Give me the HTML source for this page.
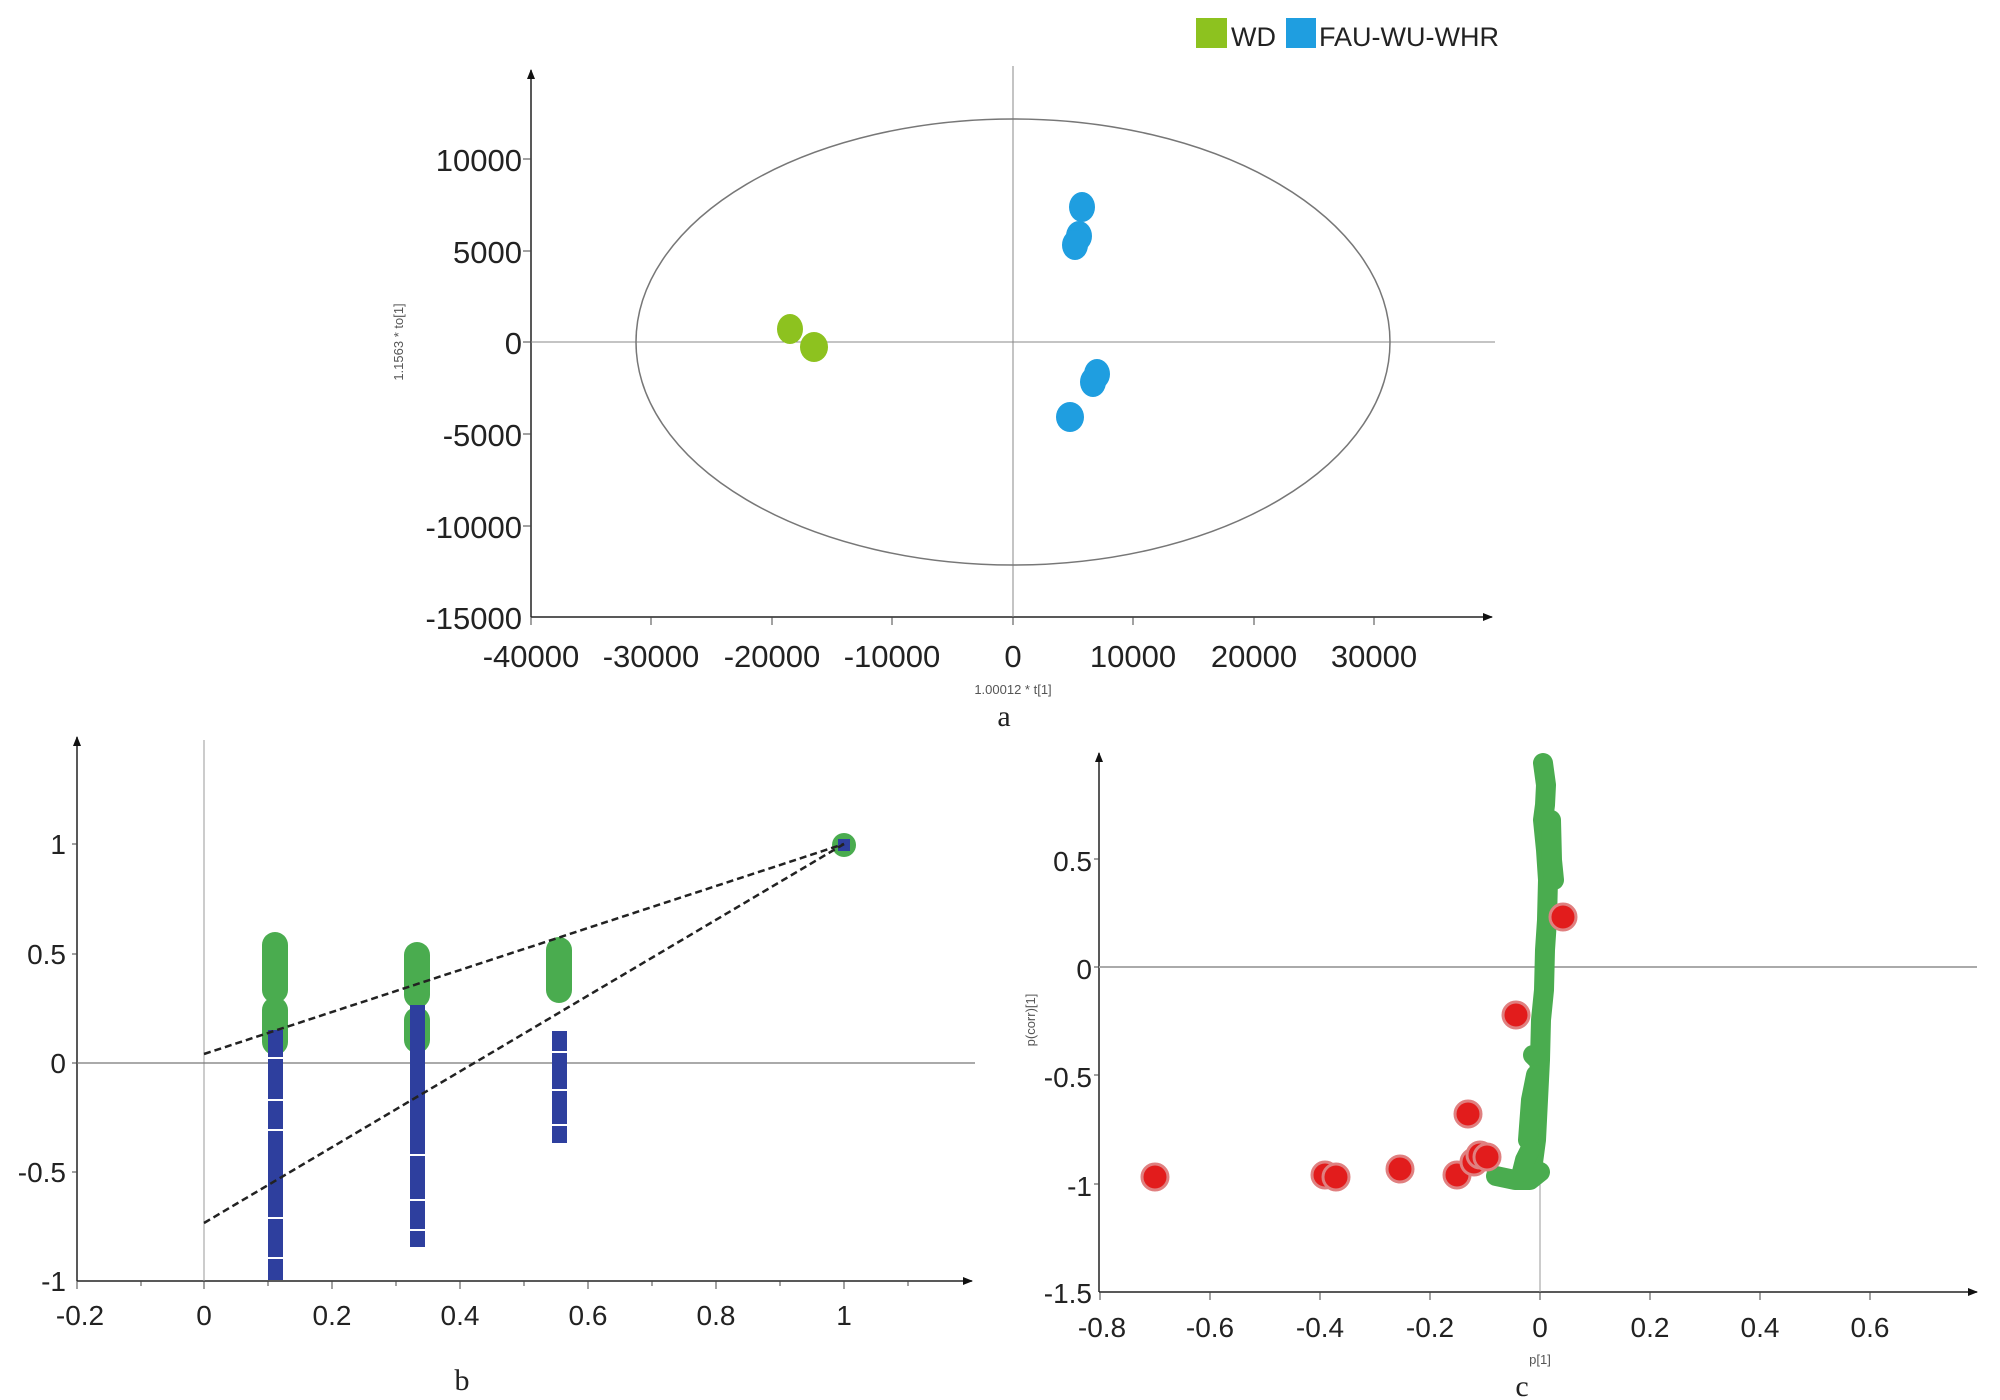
<!DOCTYPE html>
<html><head><meta charset="utf-8"><style>
html,body{margin:0;padding:0;background:#fff;}
svg{display:block;}
text{font-family:"Liberation Sans",sans-serif;fill:#222;}
.t{font-size:31px;}
.s{font-size:13px;fill:#555;}
.cap{font-family:"Liberation Serif",serif;font-size:30px;}
</style></head><body>
<svg width="2000" height="1400" viewBox="0 0 2000 1400" xmlns="http://www.w3.org/2000/svg">
<defs>
<marker id="ar" markerWidth="10" markerHeight="10" refX="9" refY="5" orient="auto" markerUnits="userSpaceOnUse"><path d="M0,1 L10,5 L0,9 z" fill="#111"/></marker>
</defs>
<!-- ===== Panel a ===== -->
<rect x="1196" y="18" width="31" height="30" fill="#8dc21f"/>
<text x="1231" y="46" style="font-size:27px">WD</text>
<rect x="1286" y="18" width="30" height="30" fill="#1f9ee0"/>
<text x="1319" y="46" style="font-size:27px">FAU-WU-WHR</text>
<line x1="531" y1="617" x2="531" y2="70" stroke="#222" stroke-width="1.5" marker-end="url(#ar)"/>
<line x1="531" y1="617" x2="1492" y2="617" stroke="#222" stroke-width="1.5" marker-end="url(#ar)"/>
<line x1="1013" y1="66" x2="1013" y2="617" stroke="#888" stroke-width="1"/>
<line x1="531" y1="342" x2="1495" y2="342" stroke="#888" stroke-width="1"/>
<ellipse cx="1013" cy="342" rx="377" ry="223" fill="none" stroke="#777" stroke-width="1.5"/>
<g stroke="#444" stroke-width="1">
<line x1="531" y1="617" x2="531" y2="625"/><line x1="651" y1="617" x2="651" y2="625"/><line x1="772" y1="617" x2="772" y2="625"/><line x1="892" y1="617" x2="892" y2="625"/><line x1="1013" y1="617" x2="1013" y2="625"/><line x1="1133" y1="617" x2="1133" y2="625"/><line x1="1254" y1="617" x2="1254" y2="625"/><line x1="1374" y1="617" x2="1374" y2="625"/>
<line x1="523" y1="159" x2="531" y2="159"/><line x1="523" y1="251" x2="531" y2="251"/><line x1="523" y1="342" x2="531" y2="342"/><line x1="523" y1="434" x2="531" y2="434"/><line x1="523" y1="526" x2="531" y2="526"/>
</g>
<g class="t" text-anchor="end">
<text x="522" y="171">10000</text><text x="522" y="263">5000</text><text x="522" y="354">0</text><text x="522" y="446">-5000</text><text x="522" y="538">-10000</text><text x="522" y="629">-15000</text>
</g>
<g class="t" text-anchor="middle">
<text x="531" y="667">-40000</text><text x="651" y="667">-30000</text><text x="772" y="667">-20000</text><text x="892" y="667">-10000</text><text x="1013" y="667">0</text><text x="1133" y="667">10000</text><text x="1254" y="667">20000</text><text x="1374" y="667">30000</text>
</g>
<text class="s" x="1013" y="694" text-anchor="middle">1.00012 * t[1]</text>
<text class="s" transform="translate(403,342) rotate(-90)" text-anchor="middle">1.1563 * to[1]</text>
<text class="cap" x="1004" y="726" text-anchor="middle">a</text>
<g fill="#8dc21f"><ellipse cx="790" cy="329" rx="13" ry="15"/><ellipse cx="814" cy="347" rx="14" ry="15"/></g>
<g fill="#1f9ee0"><ellipse cx="1082" cy="207" rx="13" ry="15"/><ellipse cx="1079" cy="236" rx="13" ry="15"/><ellipse cx="1075" cy="245" rx="13" ry="15"/><ellipse cx="1097" cy="374" rx="13" ry="15"/><ellipse cx="1093" cy="382" rx="13" ry="15"/><ellipse cx="1070" cy="417" rx="14" ry="15"/></g>

<!-- ===== Panel b ===== -->
<line x1="77" y1="1281" x2="77" y2="737" stroke="#222" stroke-width="1.5" marker-end="url(#ar)"/>
<line x1="77" y1="1281" x2="972" y2="1281" stroke="#222" stroke-width="1.5" marker-end="url(#ar)"/>
<line x1="204" y1="740" x2="204" y2="1281" stroke="#999" stroke-width="1"/>
<line x1="77" y1="1063" x2="975" y2="1063" stroke="#777" stroke-width="1.2"/>
<g stroke="#444" stroke-width="1">
<line x1="77" y1="1281" x2="77" y2="1289"/><line x1="141" y1="1281" x2="141" y2="1286"/><line x1="204" y1="1281" x2="204" y2="1289"/><line x1="268" y1="1281" x2="268" y2="1286"/><line x1="332" y1="1281" x2="332" y2="1289"/><line x1="396" y1="1281" x2="396" y2="1286"/><line x1="460" y1="1281" x2="460" y2="1289"/><line x1="524" y1="1281" x2="524" y2="1286"/><line x1="588" y1="1281" x2="588" y2="1289"/><line x1="652" y1="1281" x2="652" y2="1286"/><line x1="716" y1="1281" x2="716" y2="1289"/><line x1="780" y1="1281" x2="780" y2="1286"/><line x1="844" y1="1281" x2="844" y2="1289"/><line x1="908" y1="1281" x2="908" y2="1286"/>
<line x1="72" y1="844" x2="77" y2="844"/><line x1="72" y1="954" x2="77" y2="954"/><line x1="72" y1="1063" x2="77" y2="1063"/><line x1="72" y1="1172" x2="77" y2="1172"/>
</g>
<g class="t" text-anchor="end" style="font-size:28px">
<text x="66" y="854">1</text><text x="66" y="964">0.5</text><text x="66" y="1073">0</text><text x="66" y="1182">-0.5</text><text x="66" y="1291">-1</text>
</g>
<g class="t" text-anchor="middle" style="font-size:28px">
<text x="80" y="1325">-0.2</text><text x="204" y="1325">0</text><text x="332" y="1325">0.2</text><text x="460" y="1325">0.4</text><text x="588" y="1325">0.6</text><text x="716" y="1325">0.8</text><text x="844" y="1325">1</text>
</g>
<text class="cap" x="462" y="1390" text-anchor="middle">b</text>
<g stroke="#4aac4f" stroke-width="26" stroke-linecap="round" fill="none">
<line x1="275" y1="945" x2="275" y2="990"/><line x1="275" y1="1010" x2="275" y2="1042"/>
<line x1="417" y1="955" x2="417" y2="995"/><line x1="417" y1="1020" x2="417" y2="1040"/>
<line x1="559" y1="950" x2="559" y2="990"/>
</g>
<circle cx="844" cy="845" r="12" fill="#4aac4f"/>
<g fill="#2e3f9e">
<rect x="268" y="1030" width="15" height="250"/>
<rect x="410" y="1005" width="15" height="242"/>
<rect x="552" y="1031" width="15" height="112"/>
<rect x="838" y="839" width="12" height="12"/>
</g>
<g stroke="#fff" stroke-width="2">
<line x1="266" y1="1058" x2="285" y2="1058"/><line x1="266" y1="1100" x2="285" y2="1100"/><line x1="266" y1="1130" x2="285" y2="1130"/><line x1="266" y1="1258" x2="285" y2="1258"/><line x1="266" y1="1218" x2="285" y2="1218"/>
<line x1="408" y1="1155" x2="427" y2="1155"/><line x1="408" y1="1200" x2="427" y2="1200"/><line x1="408" y1="1230" x2="427" y2="1230"/>
<line x1="550" y1="1052" x2="569" y2="1052"/><line x1="550" y1="1090" x2="569" y2="1090"/><line x1="550" y1="1125" x2="569" y2="1125"/>
</g>
<g stroke="#222" stroke-width="2.5" stroke-dasharray="7,4" fill="none">
<line x1="204" y1="1054" x2="844" y2="844"/>
<line x1="204" y1="1223" x2="844" y2="844"/>
</g>

<!-- ===== Panel c ===== -->
<line x1="1099" y1="1292" x2="1099" y2="753" stroke="#222" stroke-width="1.5" marker-end="url(#ar)"/>
<line x1="1099" y1="1292" x2="1977" y2="1292" stroke="#222" stroke-width="1.5" marker-end="url(#ar)"/>
<line x1="1099" y1="967" x2="1977" y2="967" stroke="#aaa" stroke-width="2"/>
<line x1="1540" y1="1100" x2="1540" y2="1292" stroke="#999" stroke-width="1"/>
<g stroke="#444" stroke-width="1">
<line x1="1100" y1="1292" x2="1100" y2="1300"/><line x1="1210" y1="1292" x2="1210" y2="1300"/><line x1="1320" y1="1292" x2="1320" y2="1300"/><line x1="1430" y1="1292" x2="1430" y2="1300"/><line x1="1540" y1="1292" x2="1540" y2="1300"/><line x1="1650" y1="1292" x2="1650" y2="1300"/><line x1="1760" y1="1292" x2="1760" y2="1300"/><line x1="1870" y1="1292" x2="1870" y2="1300"/>
<line x1="1094" y1="859" x2="1099" y2="859"/><line x1="1094" y1="967" x2="1099" y2="967"/><line x1="1094" y1="1075" x2="1099" y2="1075"/><line x1="1094" y1="1184" x2="1099" y2="1184"/>
</g>
<g class="t" text-anchor="end" style="font-size:28px">
<text x="1092" y="871">0.5</text><text x="1092" y="979">0</text><text x="1092" y="1087">-0.5</text><text x="1092" y="1196">-1</text><text x="1092" y="1303">-1.5</text>
</g>
<g class="t" text-anchor="middle" style="font-size:28px">
<text x="1102" y="1337">-0.8</text><text x="1210" y="1337">-0.6</text><text x="1320" y="1337">-0.4</text><text x="1430" y="1337">-0.2</text><text x="1540" y="1337">0</text><text x="1650" y="1337">0.2</text><text x="1760" y="1337">0.4</text><text x="1870" y="1337">0.6</text>
</g>
<text class="s" x="1540" y="1364" text-anchor="middle">p[1]</text>
<text class="s" transform="translate(1035,1020) rotate(-90)" text-anchor="middle">p(corr)[1]</text>
<text class="cap" x="1522" y="1396" text-anchor="middle">c</text>
<g stroke="#4aac4f" stroke-width="20" stroke-linecap="round" stroke-linejoin="round" fill="none">
<polyline points="1543,763 1546,785 1545,805 1543,820 1546,850 1548,880 1547,920 1545,950 1544,990 1541,1020 1540,1060 1538,1100 1536,1140 1532,1170"/>
<polyline points="1551,820 1552,860 1554,880"/>
<polyline points="1533,1055 1538,1060"/>
<polyline points="1528,1140 1531,1100 1536,1075"/>
<polyline points="1496,1176 1515,1180 1530,1180 1540,1172"/>
<polyline points="1522,1172 1525,1160 1530,1150"/>
</g>
<g fill="#e21c1c" stroke="#e08080" stroke-width="3">
<circle cx="1155" cy="1177" r="13"/>
<circle cx="1325" cy="1175" r="13"/><circle cx="1336" cy="1177" r="13"/>
<circle cx="1400" cy="1169" r="13"/>
<circle cx="1457" cy="1175" r="13"/>
<circle cx="1468" cy="1114" r="13"/>
<circle cx="1474" cy="1162" r="13"/><circle cx="1480" cy="1155" r="13"/><circle cx="1487" cy="1157" r="13"/>
<circle cx="1516" cy="1015" r="13"/>
<circle cx="1563" cy="917" r="13"/>
</g>
</svg>
</body></html>
